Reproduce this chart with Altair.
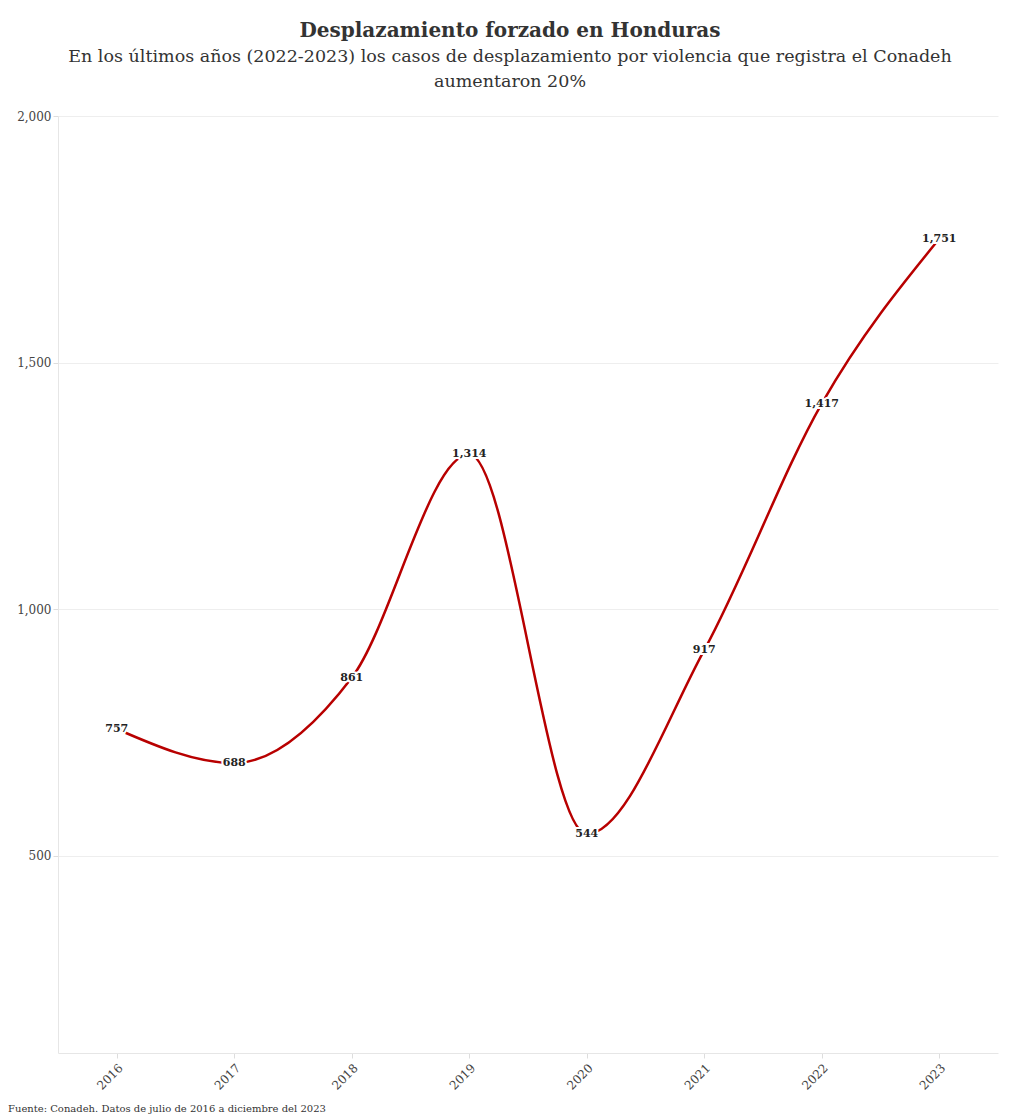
import altair as alt
import pandas as pd

years = ["2016", "2017", "2018", "2019", "2020", "2021", "2022", "2023"]
cases = [757, 688, 861, 1314, 544, 917, 1417, 1751]

title_text = "Desplazamiento forzado en Honduras"
subtitle_text = ["En los últimos años (2022-2023) los casos de desplazamiento por violencia que registra el Conadeh",
                 "aumentaron 20%"]
source_text = "Fuente: Conadeh. Datos de julio de 2016 a diciembre del 2023"

df = pd.DataFrame({"year": years, "cases": cases})
FONT = "DejaVu Serif"

x = alt.X("year:O", title=None, scale=alt.Scale(type="point", padding=0.5),
          axis=alt.Axis(labelAngle=-45, labelFont=FONT, labelFontSize=12, labelColor="#444",
                        domainColor="#e6e6e6", tickColor="#dddddd", tickSize=5, labelPadding=4))
y = alt.Y("cases:Q", title=None, scale=alt.Scale(domain=[100, 2000], nice=False, zero=False),
          axis=alt.Axis(values=[500, 1000, 1500, 2000], format=",d", labelFont=FONT, labelFontSize=12,
                        labelColor="#444", domainColor="#e6e6e6", gridColor="#eeeeee",
                        tickColor="#dddddd", tickSize=5))

base = alt.Chart(df).encode(x=x, y=y)
line = base.mark_line(color="#b80000", strokeWidth=2.5, interpolate="monotone")
halo = base.mark_text(font=FONT, fontSize=11, fontWeight="bold", stroke="white", strokeWidth=4,
                      color="white").encode(text=alt.Text("cases:Q", format=",d"))
labels = base.mark_text(font=FONT, fontSize=11, fontWeight="bold", color="#222").encode(
    text=alt.Text("cases:Q", format=",d"))
source = alt.Chart(pd.DataFrame({"t": [source_text]})).mark_text(
    font=FONT, fontSize=10, color="#333", align="left", baseline="top").encode(
    text="t:N", x=alt.value(-50), y=alt.value(988))

chart = alt.layer(line, halo, labels, source).properties(
    width=940, height=937,
    autosize=alt.AutoSizeParams(type="none"),
    padding={"left": 58, "top": 116, "right": 22, "bottom": 66},
    title=alt.TitleParams(text=title_text, subtitle=subtitle_text, anchor="middle", frame="group",
                          dx=-18, font=FONT, fontSize=20, fontWeight="bold", color="#333",
                          subtitleFont=FONT, subtitleFontSize=17.5, subtitleColor="#333",
                          subtitlePadding=7, subtitleLineHeight=25, offset=20)
).configure(background="white").configure_view(stroke=None)

chart.save("out.html", embed_options={"renderer": "svg", "actions": False})
